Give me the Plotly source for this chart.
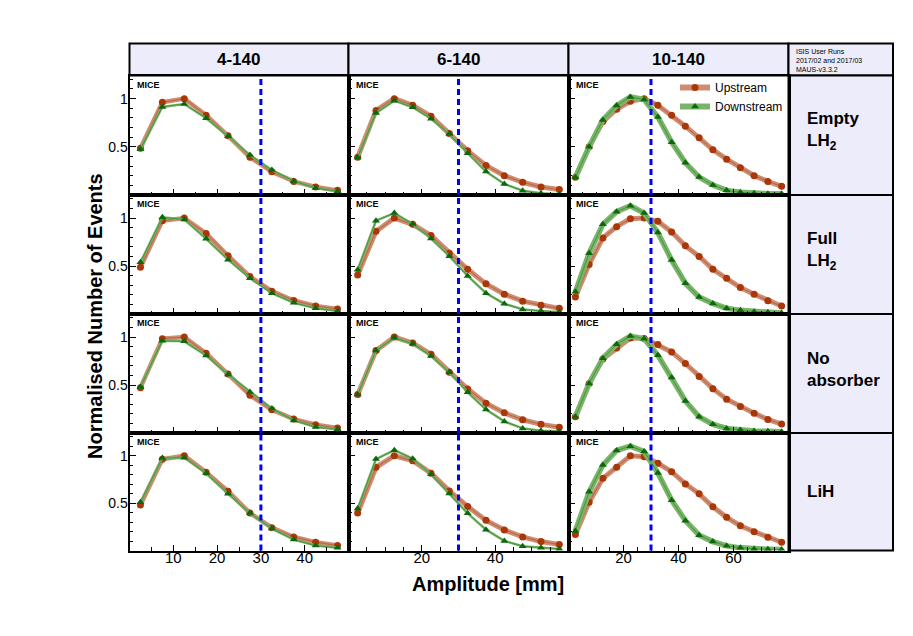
import plotly.graph_objects as go

W, H = 913, 636

# ---------------- data ----------------
amp_4_140 = [2.5, 7.5, 12.5, 17.5, 22.5, 27.5, 32.5, 37.5, 42.5, 47.5]
amp_6_140 = [2.5, 7.5, 12.5, 17.5, 22.5, 27.5, 32.5, 37.5, 42.5, 47.5, 52.5, 57.5]
amp_10_140 = [2.5, 7.5, 12.5, 17.5, 22.5, 27.5, 32.5, 37.5, 42.5, 47.5, 52.5, 57.5,
              62.5, 67.5, 72.5, 77.5]

column_titles = ["4-140", "6-140", "10-140"]
row_titles = ["Empty<br>LH<sub>2</sub>", "Full<br>LH<sub>2</sub>", "No<br>absorber", "LiH"]

# Empty LH2
up_empty_4 = [0.486, 0.962, 1.0, 0.828, 0.614, 0.393, 0.241, 0.141, 0.083, 0.048]
dn_empty_4 = [0.476, 0.914, 0.945, 0.797, 0.610, 0.414, 0.259, 0.145, 0.072, 0.038]
up_empty_6 = [0.392, 0.878, 1.0, 0.931, 0.816, 0.639, 0.458, 0.306, 0.201, 0.132, 0.083, 0.056]
dn_empty_6 = [0.389, 0.851, 0.979, 0.910, 0.792, 0.632, 0.434, 0.243, 0.115, 0.045, 0.017, 0.007]
up_empty_10 = [0.183, 0.500, 0.762, 0.890, 0.972, 1.0, 0.931, 0.828, 0.714, 0.593, 0.469, 0.372,
               0.283, 0.200, 0.141, 0.090]
dn_empty_10 = [0.183, 0.500, 0.779, 0.928, 1.017, 0.990, 0.810, 0.548, 0.334, 0.186, 0.103, 0.048,
               0.028, 0.017, 0.014, 0.014]

# Full LH2
up_full_4 = [0.486, 0.972, 1.0, 0.838, 0.607, 0.390, 0.238, 0.141, 0.083, 0.052]
dn_full_4 = [0.538, 1.007, 0.986, 0.783, 0.566, 0.372, 0.217, 0.117, 0.059, 0.031]
up_full_6 = [0.407, 0.862, 1.0, 0.934, 0.817, 0.634, 0.466, 0.314, 0.207, 0.134, 0.090, 0.059]
dn_full_6 = [0.462, 0.972, 1.052, 0.938, 0.786, 0.603, 0.397, 0.217, 0.107, 0.048, 0.031, 0.021]
up_full_10 = [0.176, 0.517, 0.793, 0.910, 0.993, 1.0, 0.966, 0.855, 0.710, 0.600, 0.466, 0.372,
              0.276, 0.207, 0.138, 0.083]
dn_full_10 = [0.231, 0.634, 0.934, 1.066, 1.128, 1.052, 0.848, 0.562, 0.321, 0.176, 0.110, 0.059,
              0.038, 0.024, 0.017, 0.010]

# No absorber
up_none_4 = [0.472, 0.983, 1.0, 0.831, 0.614, 0.393, 0.241, 0.145, 0.086, 0.052]
dn_none_4 = [0.479, 0.962, 0.955, 0.807, 0.610, 0.428, 0.255, 0.131, 0.062, 0.038]
up_none_6 = [0.400, 0.859, 1.0, 0.938, 0.821, 0.634, 0.459, 0.310, 0.210, 0.138, 0.090, 0.059]
dn_none_6 = [0.400, 0.859, 0.993, 0.931, 0.803, 0.634, 0.424, 0.245, 0.121, 0.048, 0.024, 0.017]
up_none_10 = [0.169, 0.517, 0.772, 0.886, 0.990, 0.985, 0.921, 0.845, 0.724, 0.590, 0.462, 0.352,
              0.276, 0.207, 0.141, 0.093]
dn_none_10 = [0.169, 0.517, 0.779, 0.924, 1.010, 0.983, 0.810, 0.579, 0.334, 0.169, 0.090, 0.048,
              0.031, 0.021, 0.017, 0.014]

# LiH
up_lih_4 = [0.479, 0.962, 1.0, 0.825, 0.626, 0.395, 0.241, 0.143, 0.087, 0.052]
dn_lih_4 = [0.510, 0.976, 0.979, 0.815, 0.598, 0.395, 0.231, 0.115, 0.052, 0.028]
up_lih_6 = [0.395, 0.878, 1.0, 0.948, 0.815, 0.629, 0.465, 0.318, 0.217, 0.143, 0.094, 0.063]
dn_lih_6 = [0.444, 0.965, 1.059, 0.969, 0.804, 0.601, 0.392, 0.220, 0.101, 0.045, 0.028, 0.017]
up_lih_10 = [0.168, 0.510, 0.762, 0.878, 1.0, 0.990, 0.920, 0.832, 0.703, 0.598, 0.462, 0.350,
             0.262, 0.199, 0.140, 0.087]
dn_lih_10 = [0.206, 0.619, 0.902, 1.056, 1.101, 1.045, 0.818, 0.531, 0.315, 0.161, 0.094, 0.049,
             0.028, 0.017, 0.014, 0.010]

amps = [amp_4_140, amp_6_140, amp_10_140]
upstream = [
    [up_empty_4, up_empty_6, up_empty_10],
    [up_full_4, up_full_6, up_full_10],
    [up_none_4, up_none_6, up_none_10],
    [up_lih_4, up_lih_6, up_lih_10],
]
downstream = [
    [dn_empty_4, dn_empty_6, dn_empty_10],
    [dn_full_4, dn_full_6, dn_full_10],
    [dn_none_4, dn_none_6, dn_none_10],
    [dn_lih_4, dn_lih_6, dn_lih_10],
]
x_ranges = [[0, 50], [0, 60], [0, 80]]
x_tickvals = [[10, 20, 30, 40], [20, 40], [20, 40, 60]]
y_tickvals = [0.5, 1]
y_ticktext = ["0.5", "1"]
cut_amplitude = 30

# ---------------- style ----------------
FONT = "Liberation Sans, Arial, Helvetica, sans-serif"
UP_MARK = "rgb(170,55,8)"
UP_LINE = "rgb(185,100,70)"
UP_BAND = "rgb(206,140,112)"
DN_MARK = "rgb(10,105,10)"
DN_LINE = "rgb(70,150,60)"
DN_BAND = "rgb(122,180,106)"
LAVENDER = "#ECECFA"
band_up_w = [4.5, 5, 5]
band_dn_w = [2.5, 2.5, 5.5]

col_x = [129.5, 348.5, 568.5, 788.5]
right_x = 893
row_y = [75.5, 195, 314, 433, 550.5]
top_y = 43.5


def px(x):
    return x / W


def py(y):
    return 1 - y / H


fig = go.Figure()
layout = {}
shapes = []
annotations = []

for r in range(4):
    for c in range(3):
        k = r * 3 + c + 1
        sfx = "" if k == 1 else str(k)
        xa, ya = "x" + sfx, "y" + sfx
        xs = amps[c]
        up = upstream[r][c]
        dn = downstream[r][c]
        common = dict(xaxis=xa, yaxis=ya, hoverinfo="skip", showlegend=False)
        fig.add_trace(go.Scatter(x=xs, y=up, mode="lines",
                                 line=dict(color=UP_BAND, width=band_up_w[c]), **common))
        fig.add_trace(go.Scatter(x=xs, y=up, mode="lines+markers",
                                 line=dict(color=UP_LINE, width=1),
                                 marker=dict(color=UP_MARK, size=7, symbol="circle"), **common))
        fig.add_trace(go.Scatter(x=xs, y=dn, mode="lines",
                                 line=dict(color=DN_BAND, width=band_dn_w[c]), **common))
        fig.add_trace(go.Scatter(x=xs, y=dn, mode="lines+markers",
                                 line=dict(color=DN_LINE, width=1),
                                 marker=dict(color=DN_MARK, size=7, symbol="triangle-up"), **common))

        layout["xaxis" + sfx] = dict(
            domain=[px(col_x[c]), px(col_x[c + 1])], range=x_ranges[c], anchor=ya,
            tickmode="array", tickvals=x_tickvals[c], showticklabels=(r == 3),
            ticks="inside", ticklen=6, tickwidth=1, tickcolor="black",
            ticklabelstandoff=-8,
            minor=dict(ticks="inside", ticklen=3.5, dtick=5, tick0=0, tickcolor="black", tickwidth=1),
            showline=True, linecolor="black", linewidth=2, mirror=True,
            showgrid=False, zeroline=False,
            tickfont=dict(family=FONT, size=15, color="black"),
        )
        layout["yaxis" + sfx] = dict(
            domain=[py(row_y[r + 1]), py(row_y[r])], range=[0, 1.24], anchor=xa,
            tickmode="array", tickvals=y_tickvals, ticktext=y_ticktext,
            showticklabels=(c == 0),
            ticks="inside", ticklen=6, tickwidth=1, tickcolor="black",
            ticklabelstandoff=-3,
            minor=dict(ticks="inside", ticklen=3.5, dtick=0.1, tick0=0, tickcolor="black", tickwidth=1),
            showline=True, linecolor="black", linewidth=2, mirror=True,
            showgrid=False, zeroline=False,
            tickfont=dict(family=FONT, size=14, color="black"),
        )
        shapes.append(dict(type="line", xref=xa, yref=ya + " domain", x0=cut_amplitude,
                           x1=cut_amplitude, y0=0, y1=1, layer="above",
                           line=dict(color="#0000FF", width=3, dash="6px,4px")))
        annotations.append(dict(text="<b>MICE</b>", xref="paper", yref="paper",
                                x=px(col_x[c] + 5), y=py(row_y[r] + 2),
                                xanchor="left", yanchor="top", showarrow=False,
                                font=dict(family=FONT, size=9, color="black")))

# legend-only traces
fig.add_trace(go.Scatter(x=[None], y=[None], mode="lines+markers", name="Upstream",
                         line=dict(color=UP_BAND, width=6),
                         marker=dict(color=UP_MARK, size=7, symbol="circle")))
fig.add_trace(go.Scatter(x=[None], y=[None], mode="lines+markers", name="Downstream",
                         line=dict(color=DN_BAND, width=6),
                         marker=dict(color=DN_MARK, size=7, symbol="triangle-up")))

# header cells
for c in range(3):
    shapes.append(dict(type="rect", xref="paper", yref="paper",
                       x0=px(col_x[c]), x1=px(col_x[c + 1]), y0=py(row_y[0]), y1=py(top_y),
                       fillcolor=LAVENDER, line=dict(color="black", width=2), layer="below"))
    annotations.append(dict(text="<b>%s</b>" % column_titles[c], xref="paper", yref="paper",
                            x=px((col_x[c] + col_x[c + 1]) / 2), y=py((top_y + row_y[0]) / 2),
                            xanchor="center", yanchor="middle", showarrow=False,
                            font=dict(family=FONT, size=17, color="black")))
shapes.append(dict(type="rect", xref="paper", yref="paper",
                   x0=px(col_x[3]), x1=px(right_x), y0=py(row_y[0]), y1=py(top_y),
                   fillcolor=LAVENDER, line=dict(color="black", width=2), layer="below"))
annotations.append(dict(text="ISIS User Runs<br>2017/02 and 2017/03<br>MAUS-v3.3.2",
                        xref="paper", yref="paper", x=px(col_x[3] + 5), y=py(top_y + 3),
                        xanchor="left", yanchor="top", align="left", showarrow=False,
                        font=dict(family=FONT, size=7, color="black")))
for r in range(4):
    shapes.append(dict(type="rect", xref="paper", yref="paper",
                       x0=px(col_x[3]), x1=px(right_x), y0=py(row_y[r + 1]), y1=py(row_y[r]),
                       fillcolor=LAVENDER, line=dict(color="black", width=2), layer="below"))
    two = "<br>" in row_titles[r]
    annotations.append(dict(text="<b>%s</b>" % row_titles[r], xref="paper", yref="paper",
                            x=px(805), y=py((row_y[r] + row_y[r + 1]) / 2 - (4 if two else 0)),
                            xanchor="left", yanchor="middle", align="left", showarrow=False,
                            font=dict(family=FONT, size=17, color="black")))

# axis titles
annotations.append(dict(text="<b>Amplitude [mm]</b>", xref="paper", yref="paper",
                        x=px(488), y=py(584), xanchor="center", yanchor="middle",
                        showarrow=False, font=dict(family=FONT, size=20, color="black")))
annotations.append(dict(text="<b>Normalised Number of Events</b>", xref="paper", yref="paper",
                        x=px(95), y=py(316), xanchor="center", yanchor="middle", textangle=-90,
                        showarrow=False, font=dict(family=FONT, size=20, color="black")))

fig.update_layout(
    width=W, height=H, autosize=False,
    margin=dict(l=0, r=0, t=0, b=0),
    paper_bgcolor="white", plot_bgcolor="white",
    font=dict(family=FONT, color="black"),
    shapes=shapes, annotations=annotations,
    showlegend=True,
    legend=dict(x=px(675), y=py(73), xanchor="left", yanchor="top",
                bgcolor="rgba(0,0,0,0)", font=dict(family=FONT, size=12, color="black"),
                itemwidth=30, tracegroupgap=0),
    **layout,
)

fig.write_html("out.html", config={"displayModeBar": False},
               post_script="document.body.style.margin='0';document.body.style.overflow='hidden';")
